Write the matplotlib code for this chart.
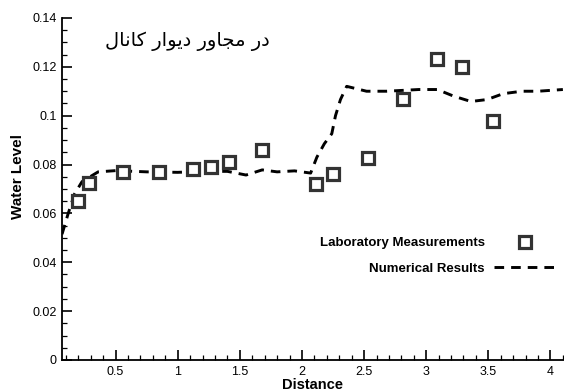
import numpy as np
import matplotlib
matplotlib.use("Agg")
import matplotlib.pyplot as plt
from matplotlib.ticker import MultipleLocator, FuncFormatter

plt.rcParams['font.family'] = ['Liberation Sans', 'DejaVu Sans']

# measured points (squares)
lab_x = [0.20, 0.29, 0.56, 0.85, 1.12, 1.27, 1.41, 1.68, 2.11, 2.25, 2.53, 2.81, 3.09, 3.29, 3.54]
lab_y = [0.065, 0.0725, 0.077, 0.077, 0.078, 0.079, 0.081, 0.086, 0.0722, 0.0763, 0.0825,
         0.107, 0.123, 0.120, 0.098]

# numerical results (dashed line)
num_x = [0.069, 0.117, 0.17, 0.23, 0.36, 0.5, 0.75, 1.0, 1.2, 1.4, 1.55, 1.68, 1.8, 1.94,
         2.07, 2.12, 2.18, 2.24, 2.27, 2.31, 2.36, 2.52, 2.68, 2.94, 3.09, 3.22, 3.36,
         3.49, 3.62, 3.77, 3.9, 4.1]
num_y = [0.0515, 0.0597, 0.068, 0.073, 0.077, 0.0775, 0.077, 0.0768, 0.0772, 0.0772, 0.0757,
         0.0778, 0.077, 0.0774, 0.0765, 0.083, 0.0885, 0.0926, 0.100, 0.1066, 0.112, 0.110,
         0.110, 0.1107, 0.1107, 0.108, 0.1058, 0.1066, 0.109, 0.110, 0.110, 0.1107]

title_fa = "در مجاور دیوار کانال"

# minimal Persian shaping (matplotlib has no complex text layout)
FORMS = {  # isolated, final, initial, medial
    'ا': ('\ufe8d', '\ufe8e', None, None),
    'د': ('\ufea9', '\ufeaa', None, None),
    'ر': ('\ufead', '\ufeae', None, None),
    'و': ('\ufeed', '\ufeee', None, None),
    'م': ('\ufee1', '\ufee2', '\ufee3', '\ufee4'),
    'ج': ('\ufe9d', '\ufe9e', '\ufe9f', '\ufea0'),
    'ن': ('\ufee5', '\ufee6', '\ufee7', '\ufee8'),
    'ل': ('\ufedd', '\ufede', '\ufedf', '\ufee0'),
    'ک': ('\ufb8e', '\ufb8f', '\ufb90', '\ufb91'),
    'ی': ('\ufbfc', '\ufbfd', '\ufbfe', '\ufbff'),
}


def shape(text):
    out = []
    for i, ch in enumerate(text):
        if ch not in FORMS:
            out.append(ch)
            continue
        prev = text[i - 1] if i > 0 else ' '
        nxt = text[i + 1] if i + 1 < len(text) else ' '
        join_prev = prev in FORMS and FORMS[prev][2] is not None
        join_next = nxt in FORMS and FORMS[ch][2] is not None
        iso, fin, ini, med = FORMS[ch]
        if join_prev and join_next:
            out.append(med)
        elif join_prev:
            out.append(fin)
        elif join_next:
            out.append(ini)
        else:
            out.append(iso)
    return ''.join(out)[::-1]


fig = plt.figure(figsize=(5.64, 3.90), dpi=100)
ax = fig.add_axes([0.110, 0.077, 0.888, 0.877])

ax.plot(num_x, num_y, color='black', lw=2.1, linestyle=(0, (3.3, 2.4)),
        label='Numerical Results', zorder=2)
ax.plot(lab_x, lab_y, linestyle='none', marker='s', markersize=9,
        markerfacecolor='white', markeredgecolor='#333333', markeredgewidth=2.3,
        label='Laboratory Measurements', zorder=3)

ax.set_xlim(0.069, 4.1)
ax.set_ylim(0, 0.14)

for s in ['top', 'right']:
    ax.spines[s].set_visible(False)
for s in ['left', 'bottom']:
    ax.spines[s].set_linewidth(1.3)

ax.xaxis.set_major_locator(MultipleLocator(0.5))
ax.xaxis.set_minor_locator(MultipleLocator(0.1))
ax.yaxis.set_major_locator(MultipleLocator(0.02))
ax.yaxis.set_minor_locator(MultipleLocator(0.005))
ax.xaxis.set_major_formatter(FuncFormatter(lambda v, p: f"{v:g}"))
ax.yaxis.set_major_formatter(FuncFormatter(lambda v, p: f"{v:g}"))
ax.tick_params(which='major', direction='in', length=7, width=1.2, labelsize=9, pad=4)
ax.tick_params(which='minor', direction='in', length=3.5, width=0.9)

ax.set_xlabel('Distance', fontsize=10.5, fontweight='bold', labelpad=0)
ax.set_ylabel('Water Level', fontsize=11, fontweight='bold')
ax.yaxis.set_label_coords(-0.073, 0.535)

ax.text(0.086, 0.932, shape(title_fa), transform=ax.transAxes, fontsize=14,
        family=['DejaVu Sans'], ha='left', va='center')

handles, labels = ax.get_legend_handles_labels()
leg = ax.legend(handles[::-1], labels[::-1], loc='upper right', frameon=False,
                markerfirst=False, bbox_to_anchor=(0.986, 0.392),
                bbox_transform=fig.transFigure, borderpad=0, borderaxespad=0,
                handlelength=4.7, labelspacing=1.0, handletextpad=0.7,
                prop={'size': 9.5, 'weight': 'bold'})

fig.savefig('out.png', dpi=100)
